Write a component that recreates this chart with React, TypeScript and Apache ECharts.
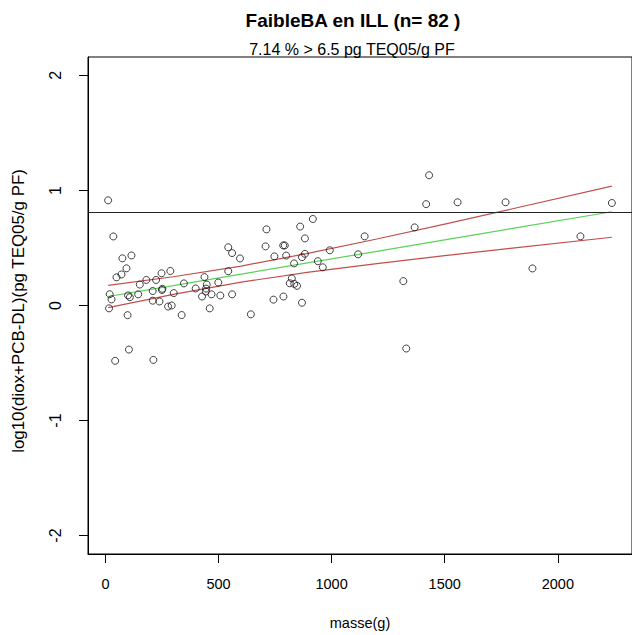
import React, { useEffect, useRef } from "react";
import * as echarts from "echarts";

const massX = [
  12, 35, 75, 115, 49, 71, 93, 152, 181, 224, 248, 287, 19, 27, 16, 100, 108, 145, 209, 252,
  250, 209, 239, 277, 293, 302, 98, 337, 347, 399, 438, 448, 445, 444, 427, 469, 461, 499, 508, 543,
  560, 595, 543, 560, 643, 104, 43, 212, 708, 712, 747, 743, 786, 793, 799, 787, 824, 815, 835, 847,
  834, 861, 882, 869, 882, 869, 917, 939, 961, 992, 1117, 1146, 1317, 1330, 1367, 1418, 1431, 1557, 1769, 1888,
  2100, 2239,
];
const logY = [
  0.914, 0.6, 0.41, 0.435, 0.245, 0.27, 0.323, 0.182, 0.222, 0.222, 0.28, 0.3, 0.098, 0.053, -0.025, 0.088, 0.072, 0.097, 0.126, 0.145,
  0.135, 0.042, 0.035, -0.009, 0.0, 0.108, -0.084, -0.083, 0.192, 0.148, 0.247, 0.182, 0.147, 0.122, 0.078, 0.097, -0.025, 0.2, 0.087, 0.506,
  0.456, 0.409, 0.298, 0.097, -0.077, -0.383, -0.481, -0.473, 0.514, 0.662, 0.427, 0.051, 0.522, 0.522, 0.434, 0.078, 0.236, 0.193, 0.188, 0.171,
  0.366, 0.686, 0.583, 0.42, 0.449, 0.024, 0.752, 0.385, 0.332, 0.48, 0.445, 0.601, 0.212, -0.374, 0.679, 0.881, 1.132, 0.897, 0.897, 0.322,
  0.601, 0.891,
];

const fitX = [12, 300, 600, 900, 1200, 1500, 1800, 2239];
const fitY = [0.078, 0.173, 0.273, 0.372, 0.471, 0.571, 0.67, 0.815];
const upperY = [0.175, 0.25, 0.343, 0.455, 0.578, 0.708, 0.841, 1.037];
const lowerY = [-0.019, 0.096, 0.203, 0.29, 0.364, 0.433, 0.499, 0.593];

const threshold = 0.813;
const xTicks = [0, 500, 1000, 1500, 2000];
const yTicks = [-2, -1, 0, 1, 2];

const titleText = "FaibleBA en ILL (n= 82 )";
const subText = "7.14 % > 6.5 pg TEQ05/g PF";
const xName = "masse(g)";
const yName = "log10(diox+PCB-DL)(pg TEQ05/g PF)";

const FONT = "'Liberation Sans', Arial, sans-serif";

export default function App() {
  const ref = useRef<HTMLDivElement>(null);
  useEffect(() => {
    if (!ref.current) return;
    const chart = echarts.init(ref.current, null, { renderer: "svg" });
    const pts = massX.map((x, i) => [x, logY[i]]);
    const line = (ys: number[]) => fitX.map((x, i) => [x, ys[i]]);
    chart.setOption({
      animation: false,
      backgroundColor: "#ffffff",
      grid: {
        left: 88,
        top: 57,
        width: 555,
        height: 497,
        show: true,
        borderColor: "#000",
        borderWidth: 1,
        containLabel: false,
      },
      xAxis: {
        type: "value",
        min: -77,
        max: 2328,
        axisLine: { show: true, onZero: false, lineStyle: { color: "#000" } },
        axisTick: { show: true, inside: false, length: 9, customValues: xTicks, lineStyle: { color: "#000" } },
        axisLabel: {
          show: true,
          customValues: xTicks,
          margin: 22,
          color: "#000",
          fontSize: 14.5,
          fontFamily: FONT,
          formatter: (v: number) => String(v),
        },
        splitLine: { show: false },
        name: xName,
        nameLocation: "middle",
        nameGap: 61,
        nameTextStyle: { color: "#000", fontSize: 14.5, fontFamily: FONT },
      },
      yAxis: {
        type: "value",
        min: -2.16,
        max: 2.16,
        axisLine: { show: true, onZero: false, lineStyle: { color: "#000" } },
        axisTick: { show: true, inside: false, length: 9, customValues: yTicks, lineStyle: { color: "#000" } },
        axisLabel: {
          show: true,
          customValues: yTicks,
          rotate: 90,
          margin: 25,
          color: "#000",
          fontSize: 16,
          fontFamily: FONT,
          formatter: (v: number) => String(v),
        },
        splitLine: { show: false },
      },
      graphic: [
        {
          type: "text",
          x: 353,
          y: 20,
          style: {
            text: titleText,
            fill: "#000",
            font: `bold 19px ${FONT}`,
            align: "center",
            verticalAlign: "middle",
          },
        },
        {
          type: "text",
          x: 352,
          y: 49,
          style: {
            text: subText,
            fill: "#000",
            font: `16px ${FONT}`,
            align: "center",
            verticalAlign: "middle",
          },
        },
        {
          type: "text",
          x: 18,
          y: 311,
          rotation: Math.PI / 2,
          style: {
            text: yName,
            fill: "#000",
            font: `16.9px ${FONT}`,
            align: "center",
            verticalAlign: "middle",
          },
        },
      ],
      series: [
        {
          type: "scatter",
          data: pts,
          symbol: "circle",
          symbolSize: 7,
          itemStyle: { color: "rgba(0,0,0,0)", borderColor: "#111", borderWidth: 1 },
          markLine: {
            silent: true,
            symbol: ["none", "none"],
            label: { show: false },
            lineStyle: { color: "#222", type: "solid", width: 1 },
            data: [{ yAxis: threshold }],
          },
          z: 3,
        },
        {
          type: "line",
          data: line(fitY),
          showSymbol: false,
          lineStyle: { color: "#5ad35a", width: 1.2 },
          z: 2,
        },
        {
          type: "line",
          data: line(upperY),
          showSymbol: false,
          lineStyle: { color: "#c0504d", width: 1.2 },
          z: 2,
        },
        {
          type: "line",
          data: line(lowerY),
          showSymbol: false,
          lineStyle: { color: "#c0504d", width: 1.2 },
          z: 2,
        },
      ],
    });
    return () => chart.dispose();
  }, []);
  return (
    <div
      ref={ref}
      style={{ position: "absolute", left: 0, top: 0, width: 632, height: 635, background: "#fff" }}
    />
  );
}
